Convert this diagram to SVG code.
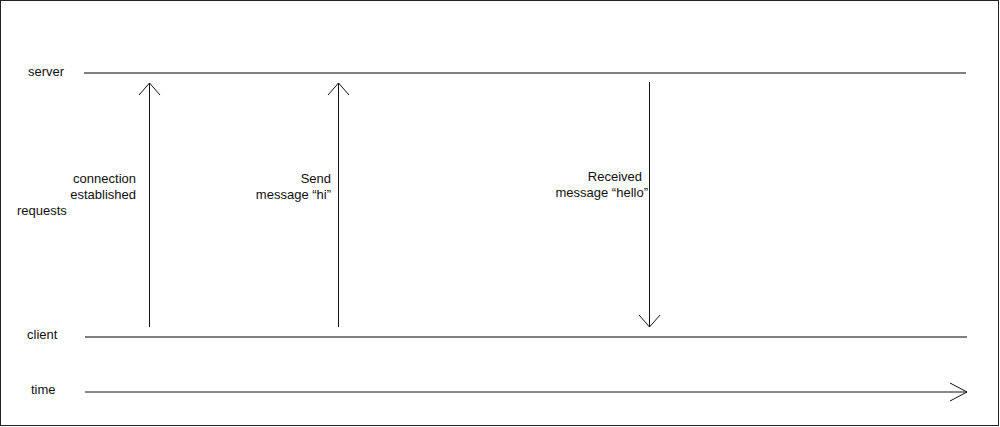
<svg xmlns="http://www.w3.org/2000/svg" width="1000" height="427" viewBox="0 0 1000 427">
<style>
text{font-family:"Liberation Sans",Arial,sans-serif;font-size:13px;fill:#111}
.r{text-anchor:end}
.lane{stroke:#555;stroke-width:1.3;fill:none}
.msg{stroke:#111;stroke-width:1;fill:none}
</style>
<rect x="0.5" y="0.5" width="998" height="425" fill="#fff" stroke="#222" stroke-width="1"/>
<g id="server">
<text x="28" y="76">server</text>
<line class="lane" x1="84" y1="73" x2="966" y2="73"/>
</g>
<g id="client">
<text x="27" y="339">client</text>
<line class="lane" x1="85" y1="337" x2="967" y2="337"/>
</g>
<g id="requests">
<text x="17" y="215">requests</text>
</g>
<g id="time">
<text x="31" y="394">time</text>
</g>
<g id="connectors">
<line class="msg" x1="85" y1="392" x2="967" y2="392"/>
<polyline class="msg" points="950,383 967,392 950,401"/>
<line class="msg" x1="149.5" y1="327" x2="149.5" y2="83"/>
<polyline class="msg" points="139,95 149.5,83 160,95"/>
<line class="msg" x1="338.5" y1="327" x2="338.5" y2="83"/>
<polyline class="msg" points="328,95 338.5,83 349,95"/>
<line class="msg" x1="649.5" y1="82" x2="649.5" y2="327"/>
<polyline class="msg" points="639,315 649.5,327 660,315"/>
</g>
<g id="label-connection">
<text class="r" x="136" y="183">connection</text>
<text class="r" x="136" y="199">established</text>
</g>
<g id="label-send">
<text class="r" x="331" y="183">Send</text>
<text class="r" x="331" y="199">message “hi”</text>
</g>
<g id="label-received">
<text class="r" x="642" y="181">Received</text>
<text class="r" x="648" y="197">message “hello”</text>
</g>
</svg>
